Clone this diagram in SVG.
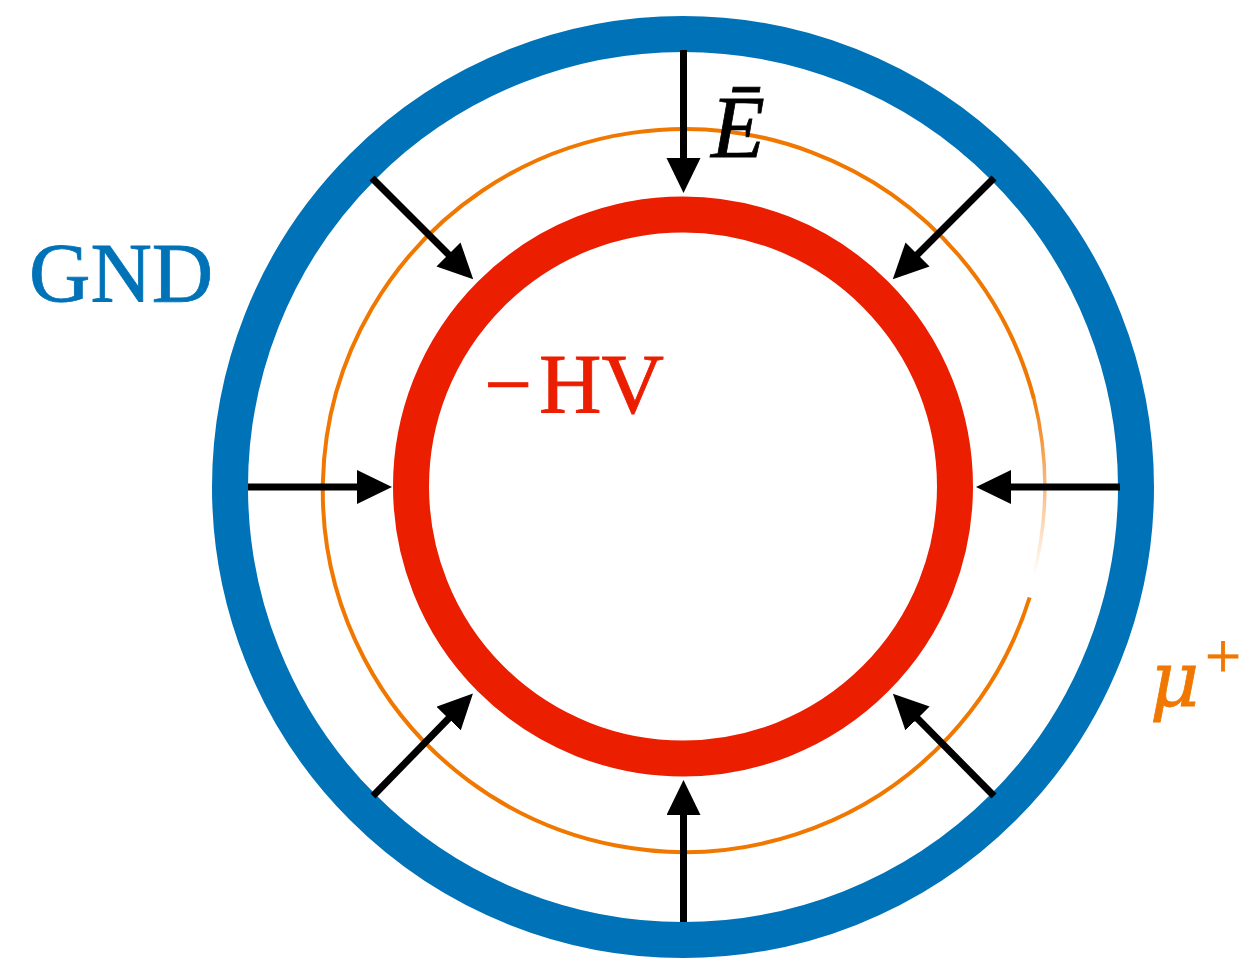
<svg xmlns="http://www.w3.org/2000/svg" width="1246" height="961" viewBox="0 0 1246 961">
<style>
.arrow{stroke:#000;stroke-width:7;fill:none;marker-end:url(#ah)}
.lbl{font-family:"Liberation Serif","Times New Roman",serif;stroke-width:0.8}
</style>
<defs>
<marker id="ah" markerUnits="userSpaceOnUse" markerWidth="40" markerHeight="40" refX="5" refY="17" orient="auto">
<path d="M0,0 L35,17 L0,34 Z" fill="#000"/>
</marker>
<linearGradient id="fade" gradientUnits="userSpaceOnUse" x1="0" y1="395" x2="0" y2="575">
<stop offset="0" stop-color="#F07800" stop-opacity="1"/>
<stop offset="1" stop-color="#F07800" stop-opacity="0"/>
</linearGradient>
</defs>
<rect width="1246" height="961" fill="#fff"/>
<g id="gnd-ring"><circle cx="683" cy="487" r="453" fill="none" stroke="#0072B7" stroke-width="36"/></g>
<g id="muon-track">
<path d="M1029.6,597.5 A361.5,361.5 0 1 1 1034.0,399" fill="none" stroke="#F07800" stroke-width="4"/>
<path d="M1034.0,399 A361.5,361.5 0 0 1 1034.0,574" fill="none" stroke="url(#fade)" stroke-width="3.5"/>
</g>
<g id="hv-ring"><circle cx="683" cy="486.5" r="272" fill="none" stroke="#EB1E00" stroke-width="36"/></g>
<g id="connectors">
<line class="arrow" x1="683.5" y1="50" x2="683.5" y2="163"/>
<line class="arrow" x1="683.5" y1="922" x2="683.5" y2="810"/>
<line class="arrow" x1="248" y1="487" x2="362" y2="487"/>
<line class="arrow" x1="1120" y1="487" x2="1006" y2="487"/>
<line class="arrow" x1="372" y1="178" x2="452" y2="258"/>
<line class="arrow" x1="994" y1="178" x2="914" y2="258"/>
<line class="arrow" x1="373" y1="796" x2="452" y2="715"/>
<line class="arrow" x1="994" y1="796" x2="914" y2="715"/>
</g>
<g id="label-gnd"><text class="lbl" x="29" y="302" font-size="85" fill="#0072B7" stroke="#0072B7">GND</text></g>
<g id="label-hv"><text class="lbl" y="413" font-size="85" fill="#EB1E00" stroke="#EB1E00"><tspan x="484">−</tspan><tspan x="539" textLength="125" lengthAdjust="spacingAndGlyphs">HV</tspan></text></g>
<g id="label-e"><text class="lbl" x="711" y="157" font-size="88" font-style="italic" fill="#000" stroke="#000">Ē</text></g>
<g id="label-mu"><text class="lbl" y="706" font-size="84" fill="#F07800" stroke="#F07800"><tspan x="1150" font-family="'DejaVu Serif',serif" font-style="italic" font-size="76">μ</tspan><tspan x="1205" y="678" font-size="64">+</tspan></text></g>
</svg>
